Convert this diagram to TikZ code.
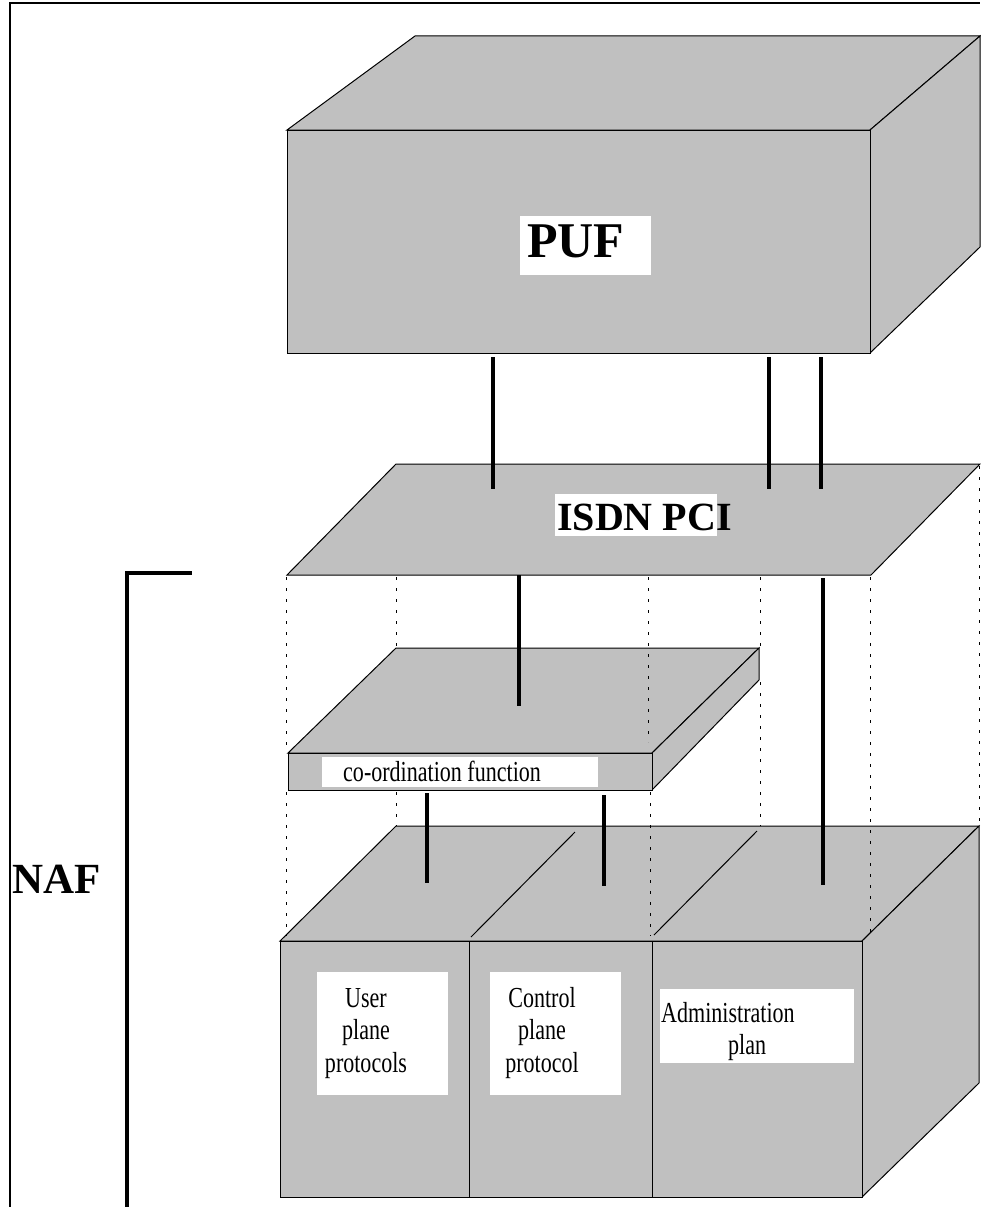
\documentclass[tikz,border=0pt]{standalone}
\usepackage{fontspec}
\setmainfont{Liberation Serif}
\newfontfamily\condensedserif{Liberation Serif}[FakeStretch=0.76]
\definecolor{facegray}{RGB}{192,192,192}

\tikzset{
  face/.style={fill=facegray, draw=black, line width=1pt, line join=miter},
  link/.style={line width=3.5pt},
  guide/.style={line width=1pt, dash pattern=on 3pt off 8pt},
  framing/.style={line width=2pt},
  brace/.style={line width=3.5pt},
  tagbox/.style={fill=white, draw=none, inner sep=0pt, anchor=north west},
  bigtitle/.style={inner sep=0pt, font=\bfseries\fontsize{#1}{#1}\selectfont},
  smalltext/.style={inner sep=0pt, font=\condensedserif\fontsize{29}{32.5}\selectfont}
}

\begin{document}
\begin{tikzpicture}[x=1pt, y=-1pt]
\useasboundingbox (0,0) rectangle (980,1207);

% outer frame and NAF bracket
\coordinate (frameBL) at (10,1207);
\coordinate (frameTL) at (10,3);
\coordinate (frameTR) at (980,3);
\draw[framing] (frameBL) -- (frameTL) -- (frameTR);
\coordinate (braceB) at (127,1207);
\coordinate (braceT) at (127,573);
\coordinate (braceR) at (192,573);
\draw[brace] (braceB) -- (braceT) -- (braceR);
\node[bigtitle=43, anchor=base west] (naf) at (12,893) {NAF};

% PUF block
\draw[face] (287,130) -- (415,36) -- (980,36) -- (870,130) -- cycle;
\draw[face] (870,130) -- (980,36) -- (980,247) -- (870,353) -- cycle;
\draw[face] (287,130) rectangle (870,353);
\node[tagbox, minimum width=131pt, minimum height=59pt] (pufbox) at (520,216) {};
\node[bigtitle=50, anchor=base west] (puf) at (527,257) {PUF};

% ISDN PCI plane
\draw[face] (287,575) -- (396,464) -- (980,464) -- (871,575) -- cycle;
\node[tagbox, minimum width=162pt, minimum height=42pt] (pcibox) at (555,494) {};
\node[bigtitle=40, anchor=base west] (pci) at (557,530) {ISDN PCI};

% co-ordination function slab
\draw[face] (288,753) -- (396,648) -- (759,648) -- (652,753) -- cycle;
\draw[face] (652,753) -- (759,648) -- (759,680) -- (652,790) -- cycle;
\draw[face] (288,753) rectangle (652,790);
\node[tagbox, minimum width=276pt, minimum height=30pt] (coordbox) at (322,757) {};
\node[smalltext, anchor=base west] (coord) at (343,781) {co-ordination function};

% protocol block
\draw[face] (280,941) -- (396,826) -- (979,826) -- (862,941) -- cycle;
\draw[face] (862,941) -- (979,826) -- (979,1083) -- (862,1197) -- cycle;
\draw[face] (280,941) rectangle (862,1197);
\draw[line width=1pt] (469,941) -- (469,1197);
\draw[line width=1pt] (652,941) -- (652,1197);
\draw[line width=1pt] (471,937) -- (575,832);
\draw[line width=1pt] (654,935) -- (757,831);

\node[tagbox, minimum width=131pt, minimum height=123pt] (userbox) at (317,972) {};
\node[smalltext, anchor=north, align=center] (user) at (366,988) {User\\plane\\protocols};
\node[tagbox, minimum width=131pt, minimum height=123pt] (ctrlbox) at (490,972) {};
\node[smalltext, anchor=north, align=center] (ctrl) at (542,987) {Control\\plane\\protocol};
\node[tagbox, minimum width=194pt, minimum height=74pt] (adminbox) at (660,989) {};
\node[smalltext, anchor=north west, align=left] (admin) at (661,1002) {Administration\\\hspace*{67pt}plan};

% dotted projection guides
\draw[guide] (286,577) -- (286,753);
\draw[guide] (286,792) -- (286,936);
\draw[guide] (396,577) -- (396,648);
\draw[guide] (396,792) -- (396,826);
\draw[guide] (648,577) -- (648,742);
\draw[guide] (650,792) -- (650,936);
\draw[guide] (760,577) -- (760,646);
\draw[guide] (760,682) -- (760,826);
\draw[guide] (870,577) -- (870,936);
\draw[guide] (979,466) -- (979,826);

% links between the layers
\coordinate (pufA) at (493,357);  \coordinate (pciA) at (493,489);
\coordinate (pufB) at (769,357);  \coordinate (pciB) at (769,489);
\coordinate (pufC) at (821,357);  \coordinate (pciC) at (821,489);
\draw[link] (pufA) -- (pciA);
\draw[link] (pufB) -- (pciB);
\draw[link] (pufC) -- (pciC);
\coordinate (pciD) at (519,575);  \coordinate (coordD) at (519,706);
\draw[link] (pciD) -- (coordD);
\coordinate (pciE) at (823,578);  \coordinate (adminE) at (823,885);
\draw[link] (pciE) -- (adminE);
\coordinate (coordF) at (427,793); \coordinate (userF) at (427,883);
\draw[link] (coordF) -- (userF);
\coordinate (coordG) at (604,795); \coordinate (ctrlG) at (604,886);
\draw[link] (coordG) -- (ctrlG);
\end{tikzpicture}
\end{document}
